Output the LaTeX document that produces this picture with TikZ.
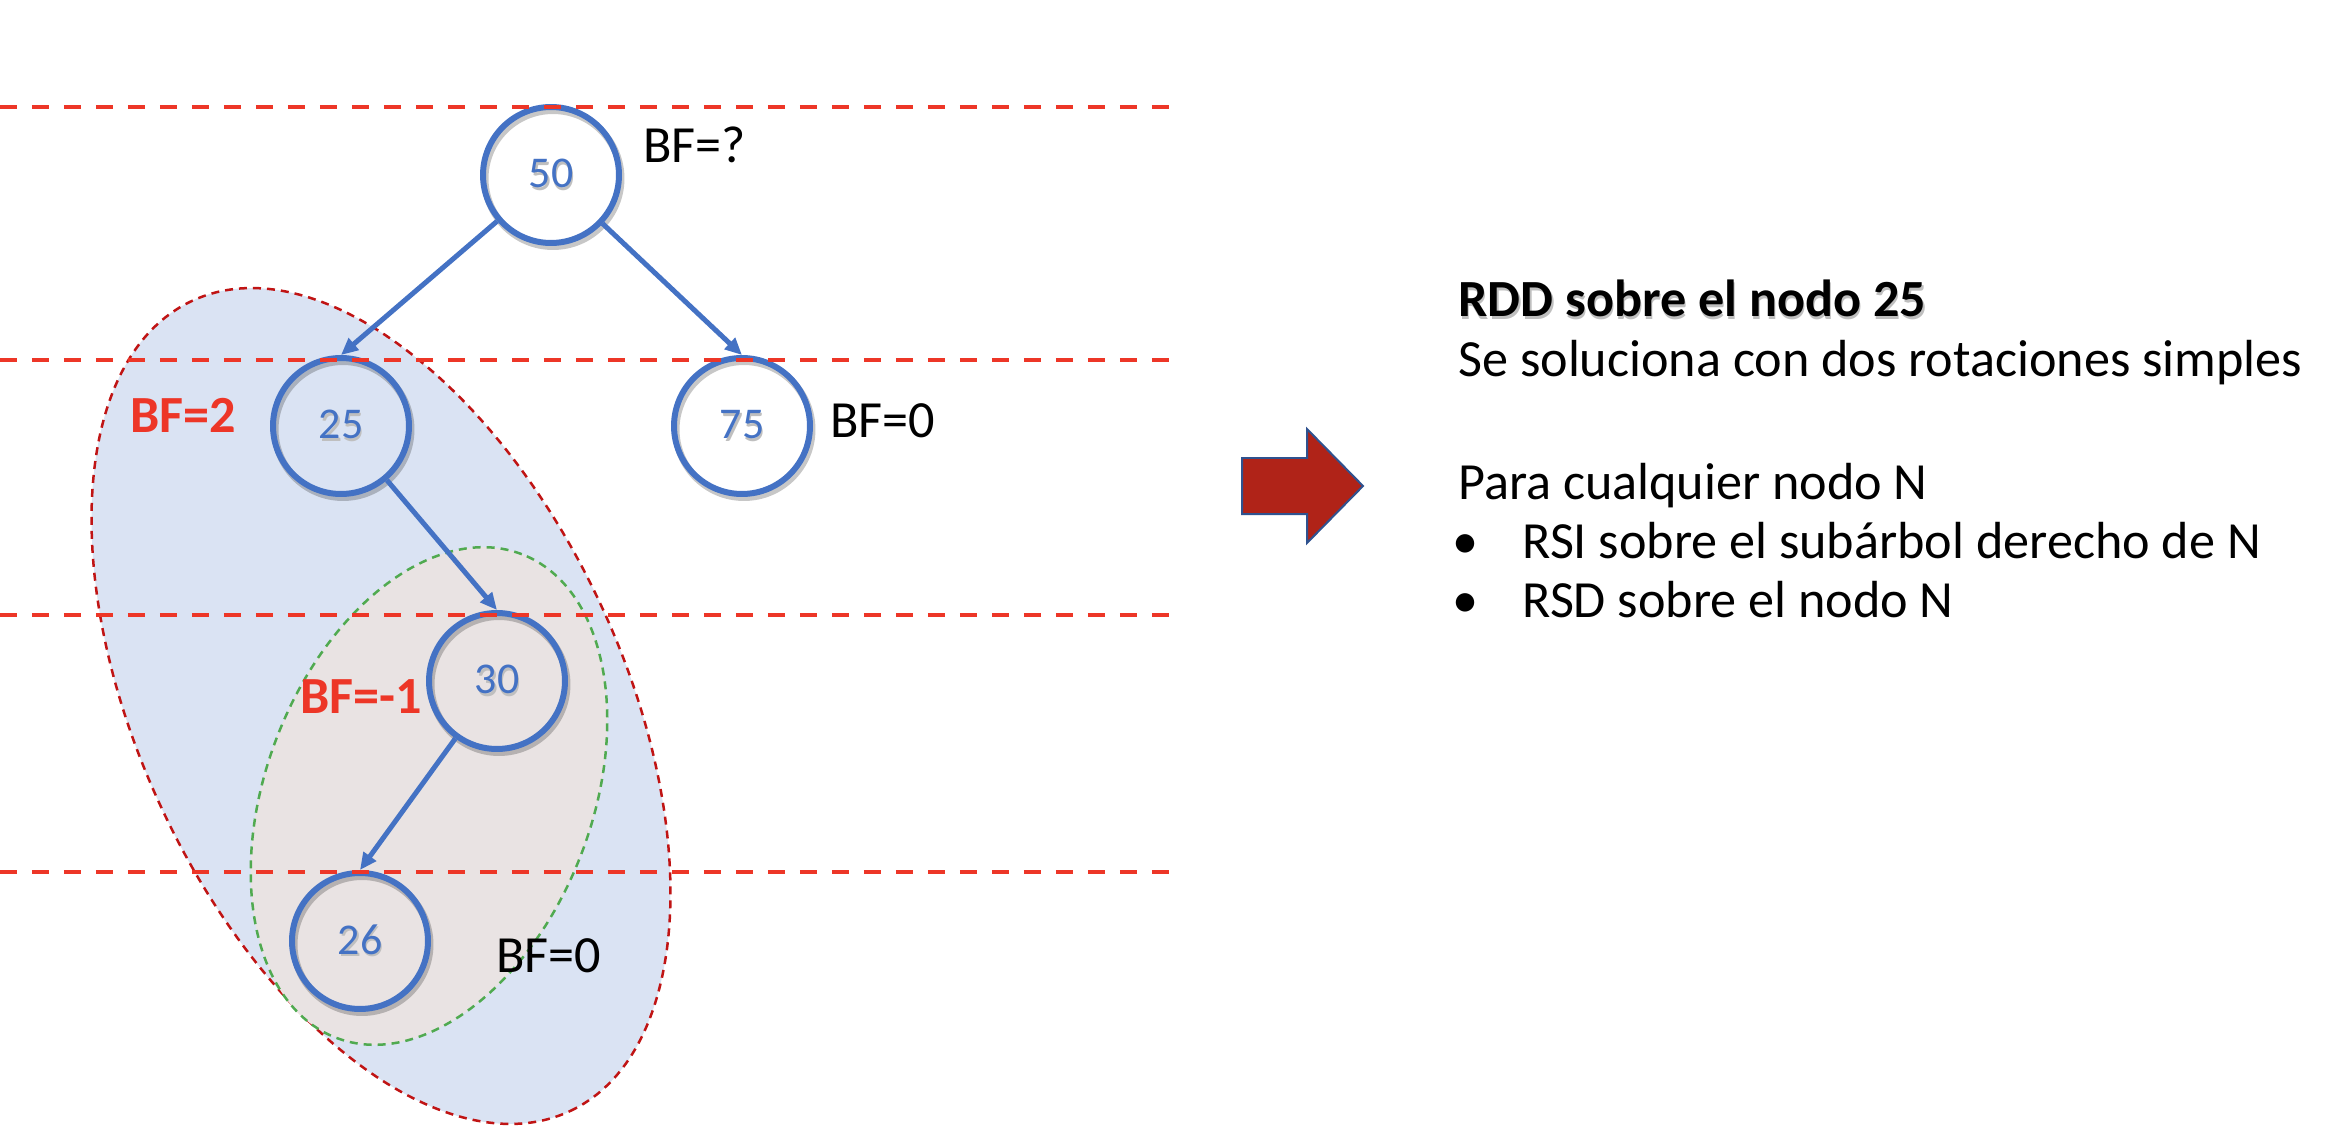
\documentclass[tikz,border=0pt]{standalone}
\usepackage{fontspec}
\setmainfont{Carlito}
\usetikzlibrary{arrows.meta,shadows}

\definecolor{azul}{RGB}{68,114,196}
\definecolor{rojo}{RGB}{237,54,39}
\definecolor{granate}{RGB}{192,20,20}
\definecolor{verde}{RGB}{80,170,80}
\definecolor{fondoazul}{RGB}{218,227,243}
\definecolor{fondogris}{RGB}{233,227,227}
\definecolor{flecha}{RGB}{176,35,24}
\definecolor{bordeflecha}{RGB}{47,82,143}

\newcommand{\sombra}[1]{\rlap{\textcolor{black!25}{\hspace{0.03cm}\raisebox{-0.05cm}{#1}}}#1}

\begin{document}
\begin{tikzpicture}[x=0.02cm, y=0.02cm,
    nodo/.style={circle, draw=azul, line width=0.12cm, minimum size=2.72cm, inner sep=0pt,
                 text=azul, font=\fontsize{25}{30}\selectfont,
                 drop shadow={shadow xshift=0.04cm, shadow yshift=-0.07cm, fill=none,
                              draw=black, opacity=0.22, line width=0.14cm}},
    arista/.style={draw=azul, line width=0.1cm, -{Triangle[length=0.34cm,width=0.3cm]}},
    etiqueta/.style={inner sep=0pt, anchor=base west, font=\fontsize{29.7}{36}\selectfont},
    bfrojo/.style={etiqueta, text=rojo, font=\fontsize{29.7}{36}\selectfont\bfseries},
    nivel/.style={draw=rojo, line width=0.09cm, dash pattern=on 0.34cm off 0.3cm},
    texto/.style={inner sep=0pt, anchor=base west, font=\fontsize{29.7}{36}\selectfont}]

    \useasboundingbox (0,0) rectangle (2350,-1128);

    % subarboles
    \draw[fill=fondoazul, draw=granate, line width=0.05cm, dash pattern=on 0.16cm off 0.12cm,
          rotate around={-65:(381,-706)}] (381,-706) ellipse (447 and 242);
    \draw[fill=fondogris, draw=verde, line width=0.05cm, dash pattern=on 0.16cm off 0.12cm,
          rotate around={69:(429,-796)}] (429,-796) ellipse (259 and 163);

    \node[nodo] (n50) at (551,-175) {\sombra{50}};
    \node[nodo] (n25) at (341,-426) {\sombra{25}};
    \node[nodo] (n75) at (742,-426) {\sombra{75}};
    \node[nodo] (n30) at (497,-681) {\sombra{30}};
    \node[nodo] (n26) at (360,-941) {\sombra{26}};

    \draw[arista] (n50) -- (n25.north);
    \draw[arista] (n50) -- (n75.north);
    \draw[arista] (n25) -- (n30.north);
    \draw[arista] (n30) -- (n26.north);

    \node[etiqueta] (bf50) at (643,-163) {BF=?};
    \node[etiqueta] (bf75) at (830,-438) {BF=0};
    \node[bfrojo] (bf25) at (130,-433) {BF=2};
    \node[bfrojo] (bf30) at (300,-713) {BF=-1};
    \node[etiqueta] (bf26) at (496,-972) {BF=0};

    % niveles
    \foreach \y in {107,360,615,872}
        \draw[nivel] (0,-\y) -- (1170,-\y);

    \draw[fill=flecha, draw=bordeflecha, line width=0.04cm]
        (1242,-458) -- (1307,-458) -- (1307,-429) -- (1363,-486)
        -- (1307,-543) -- (1307,-514) -- (1242,-514) -- cycle;

    \node[texto, font=\fontsize{29.7}{36}\selectfont\bfseries] (titulo) at (1458,-317) {\sombra{RDD sobre el nodo 25}};
    \node[texto] (sub) at (1458,-377) {Se soluciona con dos rotaciones simples};
    \node[texto] (para) at (1458,-500) {Para cualquier nodo N};
    \node[texto] (paso1) at (1458,-558) {\makebox[1.28cm][l]{\hspace{-0.12cm}\textbullet}RSI sobre el subárbol derecho de N};
    \node[texto] (paso2) at (1458,-617) {\makebox[1.28cm][l]{\hspace{-0.12cm}\textbullet}RSD sobre el nodo N};
    % \node at (1458,-680) {};

\end{tikzpicture}
\end{document}
